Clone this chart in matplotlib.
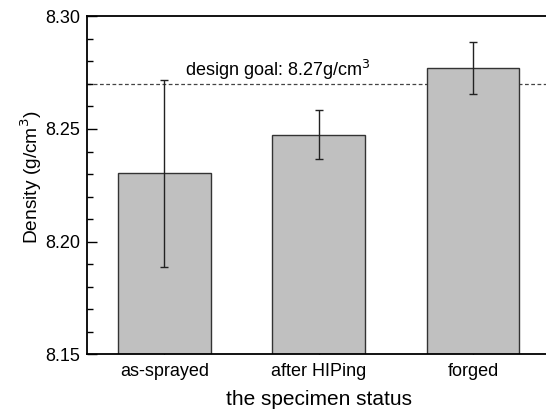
import matplotlib
matplotlib.use("Agg")
import matplotlib.pyplot as plt
from matplotlib.ticker import MultipleLocator, FormatStrFormatter

categories = ["as-sprayed", "after HIPing", "forged"]
density = [8.2304, 8.2475, 8.2770]
density_err = [0.0415, 0.0107, 0.0116]
design_goal = 8.27

plt.rcParams['font.family'] = ['Liberation Sans', 'DejaVu Sans']

fig = plt.figure(figsize=(5.46, 4.11), dpi=100)
W, H = 546, 411
left_px, right_px, top_px, bottom_px = 87.3, 550.0, 16.3, 354.3
ax = fig.add_axes([left_px / W, 1 - bottom_px / H, (right_px - left_px) / W, (bottom_px - top_px) / H])

x = list(range(len(categories)))
ax.bar(x, density, width=0.6, color="#c0c0c0", edgecolor="#333333", linewidth=1.0, zorder=2)
ax.errorbar(x, density, yerr=density_err, fmt="none", ecolor="#222222", elinewidth=1.0,
            capsize=2.7, capthick=1.0, zorder=3)
ax.axhline(design_goal, color="#444444", linestyle=(0, (3, 2)), linewidth=0.9, zorder=1)
ax.text(0.733, design_goal + 0.0035, "design goal: 8.27g/cm$^3$", ha="center", va="baseline",
        fontsize=13)

ax.set_xlim(-0.5, 2.5)
ax.set_ylim(8.15, 8.30)
ax.set_xticks(x)
ax.set_xticklabels(categories)
ax.yaxis.set_major_locator(MultipleLocator(0.05))
ax.yaxis.set_minor_locator(MultipleLocator(0.01))
ax.yaxis.set_major_formatter(FormatStrFormatter("%.2f"))
ax.tick_params(axis="both", which="major", direction="in", length=7, width=1.0, labelsize=13)
ax.tick_params(axis="x", which="major", pad=6.5)
ax.tick_params(axis="y", which="major", pad=5.2)
ax.tick_params(axis="y", which="minor", direction="in", length=4, width=1.0)
ax.tick_params(top=False, right=False)
for s in ax.spines.values():
    s.set_linewidth(1.3)

ax.set_xlabel("the specimen status", fontsize=15)
ax.set_ylabel("Density (g/cm$^3$)", fontsize=13.8)
ax.xaxis.set_label_coords(0.5, -0.105)
ax.yaxis.set_label_coords(-0.094, 0.523)

fig.savefig("out.png", dpi=100)
